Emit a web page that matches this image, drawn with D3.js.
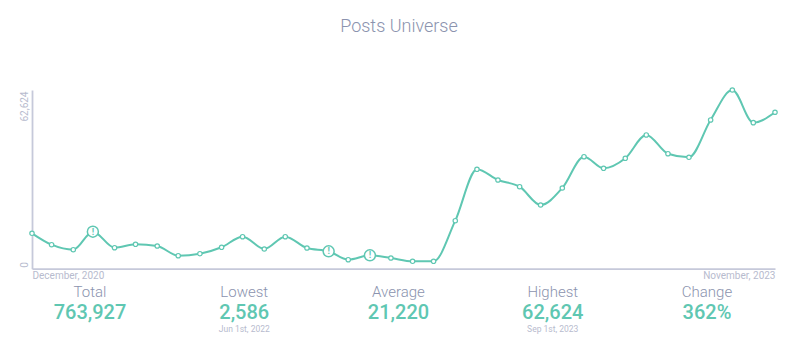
<!DOCTYPE html>
<html>
<head>
    <script src="https://d3js.org/d3.v7.min.js"></script>
    <style>
        html, body {
            margin: 0;
            background: #fff;
            overflow: hidden;
        }

        svg {
            display: block;
            font-family: Roboto, sans-serif;
        }
    </style>
</head>
<body>
    <svg width="800" height="351"></svg>
    <script>
        const width = 800,
            height = 351;

        const title = "Posts Universe";

        // monthly, the first bucket starts a few days into December
        const dates = ["2020-12-04", "2021-01-01", "2021-02-01", "2021-03-01", "2021-04-01", "2021-05-01", "2021-06-01", "2021-07-01", "2021-08-01",
            "2021-09-01", "2021-10-01", "2021-11-01", "2021-12-01", "2022-01-01", "2022-02-01", "2022-03-01", "2022-04-01", "2022-05-01",
            "2022-06-01", "2022-07-01", "2022-08-01", "2022-09-01", "2022-10-01", "2022-11-01", "2022-12-01", "2023-01-01", "2023-02-01",
            "2023-03-01", "2023-04-01", "2023-05-01", "2023-06-01", "2023-07-01", "2023-08-01", "2023-09-01", "2023-10-01", "2023-11-01"];
        const posts = [12408, 8412, 6660, 12969, 7361, 8552, 7957, 4557, 5258,
            7501, 11216, 6905, 11216, 7256, 6099, 3155, 4697, 3750,
            2586, 2600, 16824, 34841, 31090, 28742, 22327, 28286, 39257,
            35191, 38696, 46863, 40308, 39047, 52120, 62624, 51174, 54820];
        // months flagged with the "!" marker
        const flagged = ["2021-03-01", "2022-02-01", "2022-04-01"];

        const xTickLabels = ["December, 2020", "November, 2023"];
        const yTicks = [0, 62624];

        const statLabels = ["Total", "Lowest", "Average", "Highest", "Change"];
        const statValues = ["763,927", "2,586", "21,220", "62,624", "362%"];
        const statDates = ["", "Jun 1st, 2022", "", "Sep 1st, 2023", ""];

        const GREEN = "#5fc7b2",
            AXIS = "#c6c9da",
            MUTED = "#b7bbce",
            LABEL = "#8b93ae";

        const svg = d3.select("svg");
        const parseDate = d3.utcParse("%Y-%m-%d");
        const time = dates.map(parseDate);

        const xScale = d3.scaleUtc().domain(d3.extent(time)).range([32, 775]);
        const yScale = d3.scaleLinear().domain([0, 62624]).range([268.7, 90]);
        const statScale = d3.scalePoint().domain(statLabels).range([90, 707]);

        svg.append("text")
            .attr("x", 399)
            .attr("y", 32)
            .attr("text-anchor", "middle")
            .attr("font-size", 18)
            .attr("font-weight", 300)
            .attr("fill", LABEL)
            .text(title);

        // axes
        const yAxis = svg.append("g")
            .attr("transform", "translate(32,0)")
            .call(d3.axisLeft(yScale).tickValues(yTicks).tickSize(0).tickFormat(d3.format(",")));
        yAxis.select(".domain").attr("stroke", AXIS).attr("stroke-width", 1.8);
        yAxis.selectAll("text")
            .attr("font-family", "Roboto, sans-serif")
            .attr("font-size", 10)
            .attr("fill", MUTED)
            .attr("dy", null)
            .attr("x", null)
            .attr("text-anchor", d => d == 0 ? "start" : "end")
            .attr("transform", d => `translate(-4,${d == 0 ? -1.5 : 1}) rotate(-90)`);

        const xAxis = svg.append("g")
            .attr("transform", "translate(0,268.7)")
            .call(d3.axisBottom(xScale)
                .tickValues(d3.extent(time))
                .tickSize(0)
                .tickFormat((d, i) => xTickLabels[i]));
        xAxis.select(".domain").attr("stroke", AXIS).attr("stroke-width", 1.8);
        xAxis.selectAll("text")
            .attr("font-family", "Roboto, sans-serif")
            .attr("font-size", 10)
            .attr("fill", MUTED)
            .attr("dy", null)
            .attr("y", 10.5)
            .attr("text-anchor", (d, i) => i == 0 ? "start" : "end");

        // line
        const line = d3.line()
            .x((d, i) => xScale(time[i]))
            .y(d => yScale(d))
            .curve(d3.curveMonotoneX);

        svg.append("path")
            .datum(posts)
            .attr("fill", "none")
            .attr("stroke", GREEN)
            .attr("stroke-width", 2)
            .attr("d", line);

        svg.append("g")
            .selectAll("circle")
            .data(posts)
            .join("circle")
            .attr("cx", (d, i) => xScale(time[i]))
            .attr("cy", d => yScale(d))
            .attr("r", (d, i) => flagged.includes(dates[i]) ? 5.5 : 2.2)
            .attr("fill", "#fff")
            .attr("stroke", GREEN)
            .attr("stroke-width", (d, i) => flagged.includes(dates[i]) ? 1.5 : 1.2);

        svg.append("g")
            .selectAll("text")
            .data(flagged)
            .join("text")
            .attr("x", d => xScale(parseDate(d)))
            .attr("y", d => yScale(posts[dates.indexOf(d)]) + 3)
            .attr("text-anchor", "middle")
            .attr("font-size", 9)
            .attr("font-weight", 700)
            .attr("fill", GREEN)
            .text("!");

        // stats row
        const stats = svg.append("g")
            .selectAll("g")
            .data(statLabels)
            .join("g")
            .attr("transform", d => `translate(${statScale(d)},0)`);

        stats.append("text")
            .attr("y", 297)
            .attr("text-anchor", "middle")
            .attr("font-size", 15)
            .attr("font-weight", 300)
            .attr("fill", LABEL)
            .text(d => d);

        stats.append("text")
            .attr("y", 319)
            .attr("text-anchor", "middle")
            .attr("font-size", 20)
            .attr("font-weight", 500)
            .attr("fill", GREEN)
            .text((d, i) => statValues[i]);

        stats.append("text")
            .attr("y", 332)
            .attr("text-anchor", "middle")
            .attr("font-size", 8.5)
            .attr("fill", MUTED)
            .text((d, i) => statDates[i]);
    </script>
</body>
</html>
